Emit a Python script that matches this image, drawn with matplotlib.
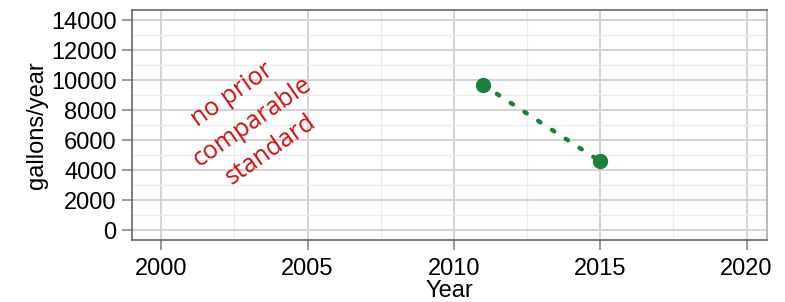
import matplotlib
matplotlib.use("Agg")
import matplotlib.pyplot as plt
from matplotlib.ticker import MultipleLocator

plt.rcParams['font.family'] = ['Liberation Sans', 'DejaVu Sans']

years = [2011, 2015]
values = [9700, 4600]
xticks = [2000, 2005, 2010, 2015, 2020]
yticks = [0, 2000, 4000, 6000, 8000, 10000, 12000, 14000]
note = "no prior\ncomparable\nstandard"

fig = plt.figure(figsize=(7.85, 3.02), dpi=100)
ax = fig.add_axes([132/785, 1-240/302, (767-132)/785, (240-10)/302])

green = '#1c7f3c'
ax.plot(years, values, linestyle=(0, (0.6, 3.1)), color=green, linewidth=3.2,
        dash_capstyle='round')
ax.plot(years, values, linestyle='none', marker='o', markersize=10, color=green)

ax.set_xlim(1999.0, 2020.7)
ax.set_ylim(-650, 14700)
ax.set_xticks(xticks)
ax.set_yticks(yticks)
ax.xaxis.set_minor_locator(MultipleLocator(2.5))
ax.yaxis.set_minor_locator(MultipleLocator(1000))
ax.grid(which='major', color='#d0d0d0', linewidth=1.3)
ax.grid(which='minor', color='#ececec', linewidth=1.0)
ax.set_axisbelow(True)
ax.tick_params(which='major', labelsize=17, color='#888888', length=7, width=1.2, pad=4)
ax.tick_params(axis='x', pad=6)
ax.tick_params(which='minor', length=0)
for s in ax.spines.values():
    s.set_color('#666666')
    s.set_linewidth(1.2)
ax.spines['right'].set_color('#aaaaaa')

ax.set_xlabel('Year', fontsize=17, labelpad=0)
ax.set_ylabel('gallons/year', fontsize=17, labelpad=2)

ax.text(2003.1, 7200, note, rotation=35, color='#cc1111', fontsize=18,
        ha='center', va='center', multialignment='center',
        family=['Open Sans', 'DejaVu Sans'], linespacing=1.45)

fig.savefig('out.png', dpi=100)
